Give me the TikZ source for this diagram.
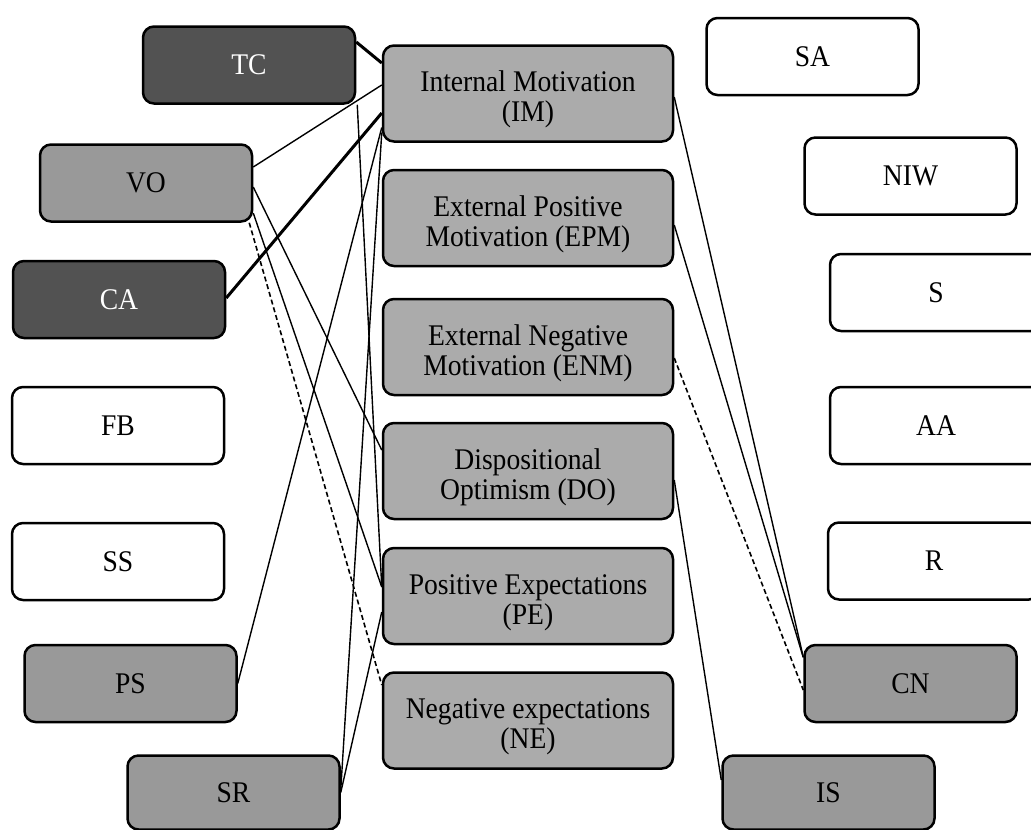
\documentclass[tikz,border=0pt]{standalone}
\usepackage{fontspec}
\setmainfont{Liberation Serif}[FakeStretch=0.92]
\newcommand{\twoline}[2]{\raisebox{-7pt}[\height][\depth]{\begin{tabular}{@{}c@{}}#1\\#2\end{tabular}}}
\begin{document}
\begin{tikzpicture}[x=1pt,y=-1pt,
  box/.style={draw=black, line width=2.5pt, rounded corners=11pt, minimum width=212pt, minimum height=77pt, inner sep=0pt, font=\fontsize{30}{30}\selectfont, fill=white},
  darkbox/.style={box, fill=black!68, text=white},
  midbox/.style={box, fill=black!40},
  centbox/.style={box, fill=black!33, minimum width=290pt, minimum height=96pt},
  thin/.style={line width=1.4pt},
  thick/.style={line width=3pt},
  dsh/.style={line width=1.6pt, dash pattern=on 5pt off 3pt}]
\useasboundingbox (0,0) rectangle (1031,830);
% left column
\node[darkbox] (TC) at (249,65) {TC};
\node[box, fill=black!40] (VO) at (146,183) {VO};
\node[darkbox] (CA) at (119,299.5) {CA};
\node[box] (FB) at (118,425.5) {FB};
\node[box] (SS) at (118,561.5) {SS};
\node[midbox] (PS) at (130.5,683.5) {PS};
\node[midbox, minimum height=74pt] (SR) at (233.5,792.5) {SR};
% centre column
\node[centbox] (IM) at (528,93.5) {\twoline{Internal Motivation}{(IM)}};
\node[centbox] (EPM) at (528,218) {\twoline{External Positive}{Motivation (EPM)}};
\node[centbox] (ENM) at (528,347) {\twoline{External Negative}{Motivation (ENM)}};
\node[centbox] (DO) at (528,471) {\twoline{Dispositional}{Optimism (DO)}};
\node[centbox] (PE) at (528,596) {\twoline{Positive Expectations}{(PE)}};
\node[centbox] (NE) at (528,720.5) {\twoline{Negative expectations}{(NE)}};
% right column
\node[box] (SA) at (812.5,56.5) {SA};
\node[box] (NIW) at (910.5,176) {NIW};
\node[box] (S) at (936,292.5) {S};
\node[box] (AA) at (936,425.5) {AA};
\node[box] (R) at (934,561) {R};
\node[midbox] (CN) at (910.5,683.5) {CN};
\node[midbox, minimum height=74pt] (IS) at (828.5,792.5) {IS};
% connectors left
\draw[thick] ([yshift=23pt]TC.east) -- ([yshift=30.5pt]IM.west);
\draw[thin] ([xshift=1pt]TC.south east) -- ([yshift=9pt]PE.west);
\draw[thin] ([yshift=16pt]VO.east) -- ([yshift=8.5pt]IM.west);
\draw[thin] ([yshift=-4pt]VO.east) -- ([yshift=21pt]DO.west);
\draw[thin] ([yshift=-30pt]VO.east) -- ([yshift=9pt]PE.west);
\draw[dsh] ([xshift=-4pt]VO.south east) -- ([yshift=35.5pt]NE.west);
\draw[thick] ([yshift=1.5pt]CA.east) -- ([yshift=-19.5pt]IM.west);
\draw[thin] ([yshift=-34pt]IM.west) -- (PS.east);
\draw[thin] ([yshift=-39pt]IM.west) -- ([yshift=3pt]SR.east);
\draw[thin] ([yshift=-16pt]PE.west) -- (SR.east);
% connectors right
\draw[thin] ([yshift=-3.5pt]IM.east) -- ([yshift=26.5pt]CN.west);
\draw[thin] ([yshift=-7pt]EPM.east) -- ([yshift=26pt]CN.west);
\draw[dsh] ([yshift=-11pt]ENM.east) -- ([yshift=-6.5pt]CN.west);
\draw[thin] ([yshift=-9pt]DO.east) -- ([yshift=12.5pt]IS.west);
\end{tikzpicture}
\end{document}
